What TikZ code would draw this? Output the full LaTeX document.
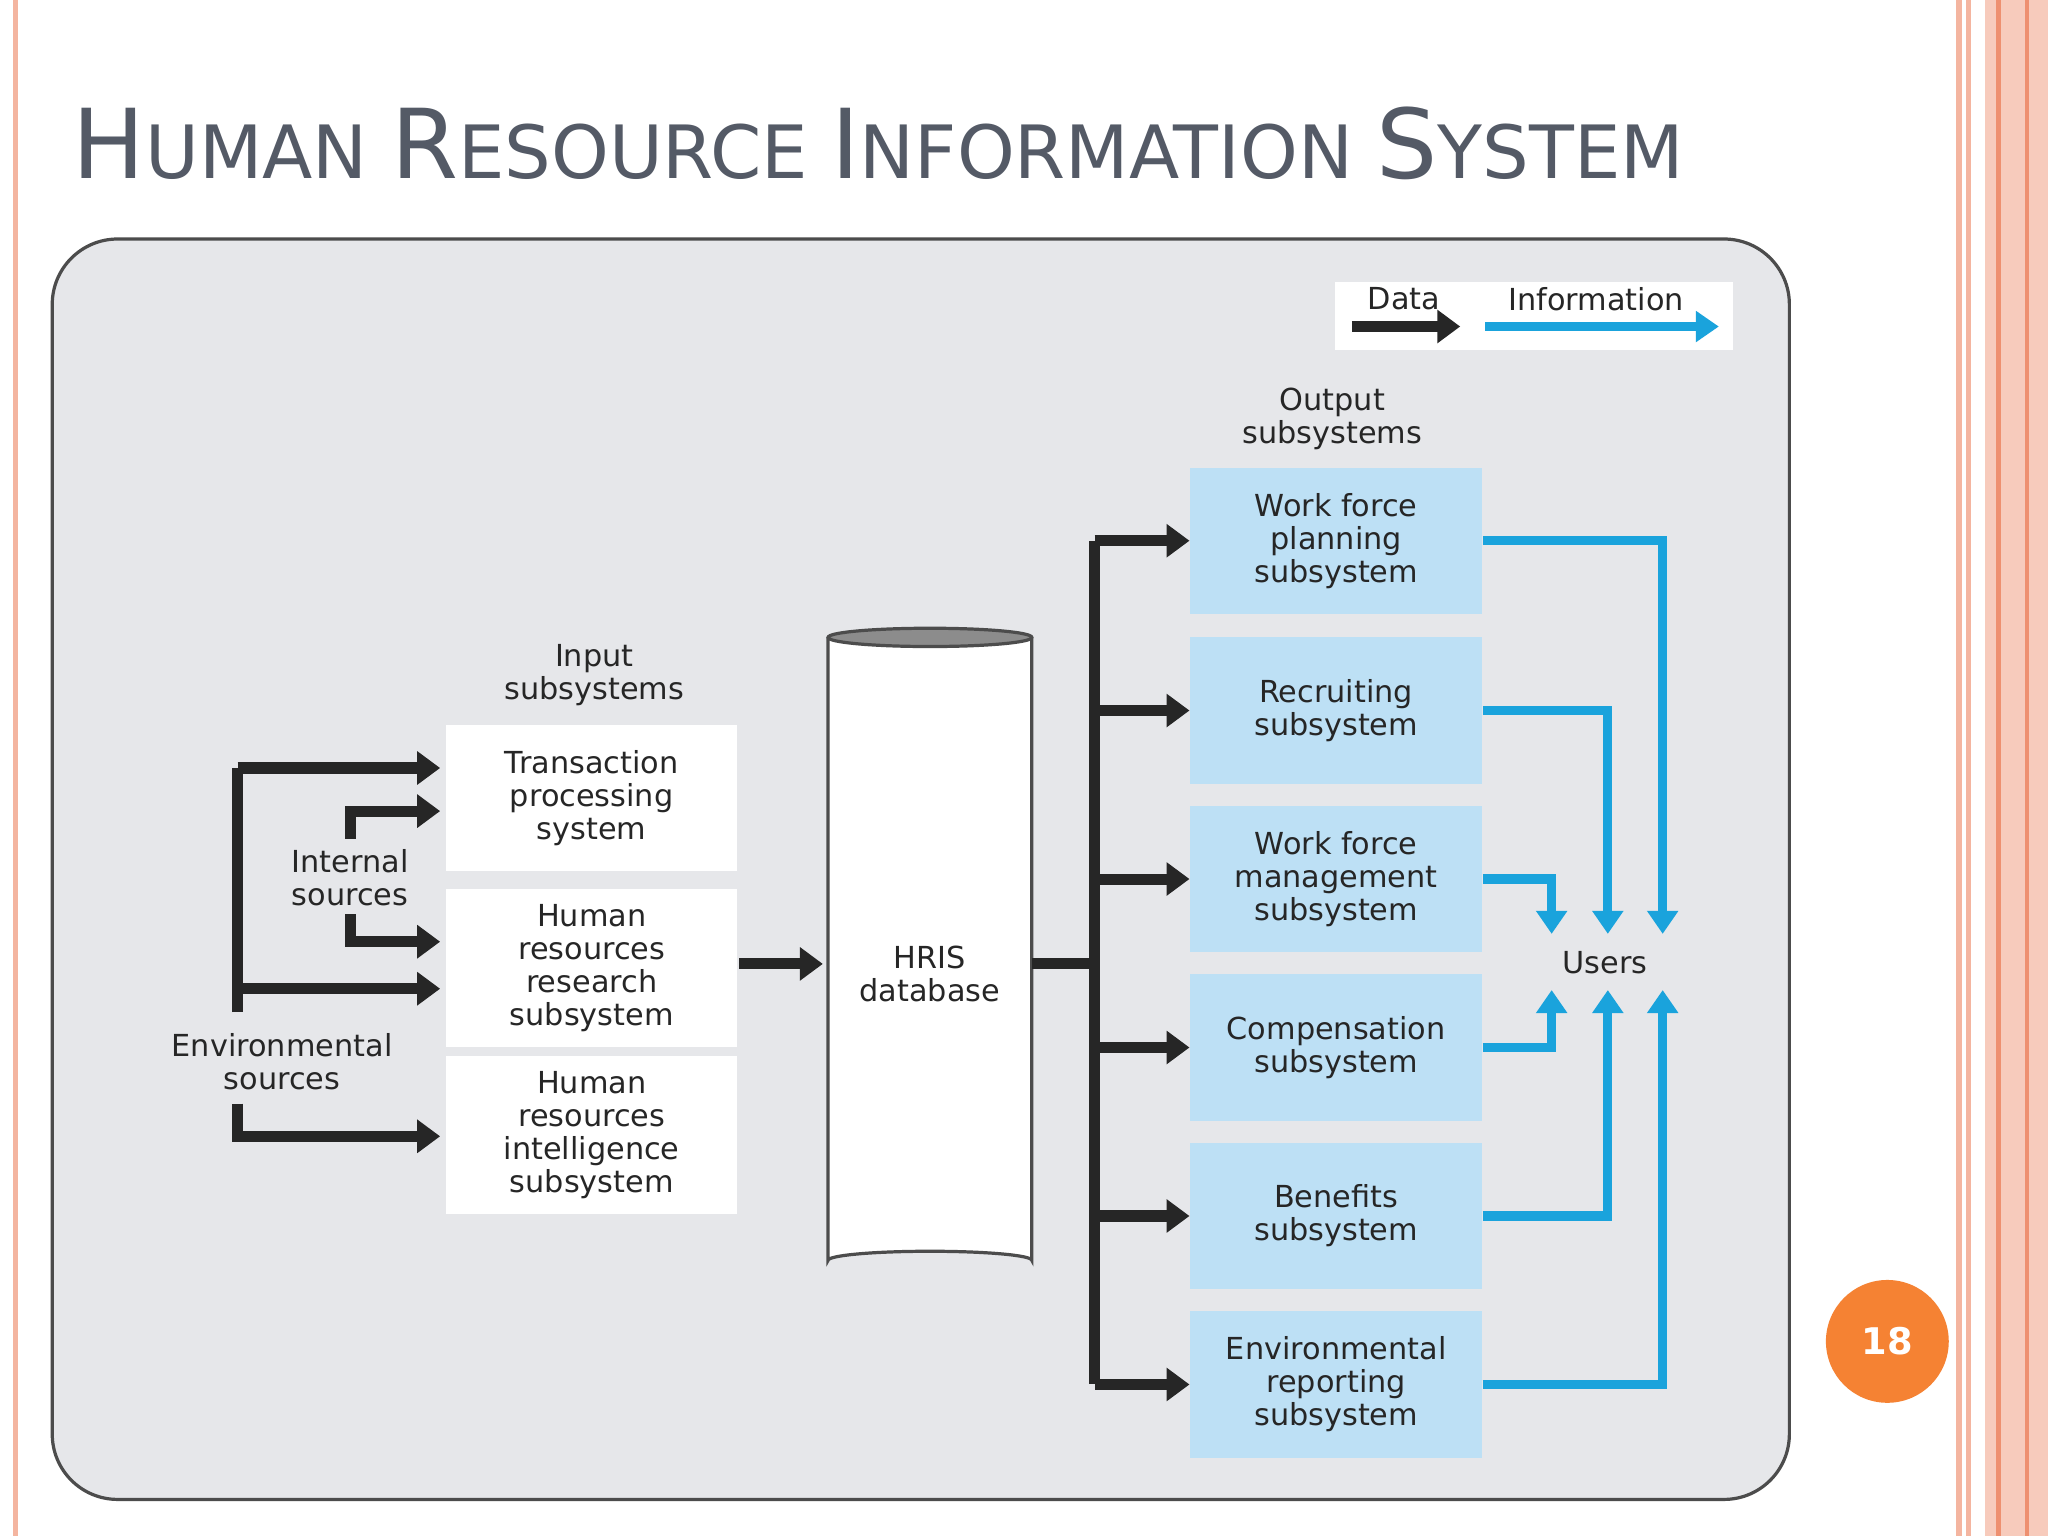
\documentclass[tikz,border=0pt]{standalone}
\usepackage{fontspec}
\setmainfont{DejaVu Sans}
\usetikzlibrary{arrows.meta,shapes.geometric}
\definecolor{panel}{HTML}{E6E7EA}
\definecolor{lblue}{HTML}{BDE0F5}
\definecolor{cyanA}{HTML}{1AA3DC}
\definecolor{titleg}{HTML}{545A66}
\definecolor{pinkb}{HTML}{F4B5A0}
\definecolor{orangeC}{HTML}{F58233}
\begin{document}
\begin{tikzpicture}[x=0.01cm,y=-0.01cm,
  txt/.style={font=\fontsize{6.6}{7.2}\selectfont,align=center,text=black!85},
  obox/.style={draw=none,fill=lblue,minimum width=2.23cm,minimum height=1.12cm,txt},
  ibox/.style={draw=none,fill=white,minimum width=2.23cm,minimum height=1.12cm,txt},
  dat/.style={line width=2.4pt,draw=black!85,-{Triangle[length=5pt,width=7pt]}},
  dl/.style={line width=2.4pt,draw=black!85},
  inf/.style={line width=2pt,draw=cyanA,-{Triangle[length=5pt,width=6.5pt]}}]
\useasboundingbox (0,0) rectangle (1568,1176);
\fill[white] (0,0) rectangle (1568,1176);
% borders
\draw[pinkb,line width=1.2pt] (12,0) -- (12,1176);
\draw[pinkb,line width=1.2pt] (1500,0) -- (1500,1176);
\draw[pinkb,line width=1.2pt] (1507,0) -- (1507,1176);
\fill[pinkb!70] (1520,0) rectangle (1568,1176);
\draw[pinkb!150,line width=1pt] (1530,0) -- (1530,1176);
\draw[pinkb!150,line width=1pt] (1552,0) -- (1552,1176);
% title
\node[anchor=west,text=titleg,inner sep=0] (title) at (55,110)
 {\fontsize{21}{24}\selectfont H\fontsize{16}{18}\selectfont UMAN \fontsize{21}{24}\selectfont R\fontsize{16}{18}\selectfont ESOURCE \fontsize{21}{24}\selectfont I\fontsize{16}{18}\selectfont NFORMATION \fontsize{21}{24}\selectfont S\fontsize{16}{18}\selectfont YSTEM};
% panel
\draw[fill=panel,draw=black!70,line width=0.7pt,rounded corners=0.5cm] (40,183) rectangle (1370,1148);
% legend
\fill[white] (1022,216) rectangle (1327,268);
\node[txt] (ldata) at (1075,229) {Data};
\node[txt] (linfo) at (1222,229) {Information};
\coordinate (d1) at (1035,250); \coordinate (d2) at (1118,250);
\coordinate (i1) at (1137,250); \coordinate (i2) at (1316,250);
\draw[dat] (d1) -- (d2);
\draw[inf] (i1) -- (i2);
% output
\node[txt] (outlbl) at (1020,321) {Output\\subsystems};
\node[obox] (o1) at (1023,414) {Work force\\planning\\subsystem};
\node[obox] (o2) at (1023,544) {Recruiting\\subsystem};
\node[obox] (o3) at (1023,673) {Work force\\management\\subsystem};
\node[obox] (o4) at (1023,802) {Compensation\\subsystem};
\node[obox] (o5) at (1023,931) {Benefits\\subsystem};
\node[obox] (o6) at (1023,1060) {Environmental\\reporting\\subsystem};
% cylinder
\draw[fill=white,draw=black!70,line width=0.7pt] (634,488) -- (634,965) arc[start angle=180,end angle=360,x radius=78,y radius=7] -- (790,488);
\draw[fill=black!45,draw=black!70,line width=0.7pt] (712,488) ellipse[x radius=78,y radius=7];
\node[txt] (db) at (712,746) {HRIS\\database};
% input
\node[txt] (inlbl) at (455,517) {Input\\subsystems};
\node[ibox] (n1) at (453,611) {Transaction\\processing\\system};
\node[ibox] (n2) at (453,741) {Human\\resources\\research\\subsystem};
\node[ibox] (n3) at (453,869) {Human\\resources\\intelligence\\subsystem};
\draw[dat] (566,738) -- (630,738);
% trunk
\coordinate (t0) at (790,738); \coordinate (tj) at (838,738);
\draw[dl] (t0) -- (tj);
\draw[dl] (838,414) -- (838,1060);
\foreach \i in {1,...,6} \draw[dat] (o\i.west -| 838,0) ++(0,0) -- (o\i.west);
% sources
\node[txt] (env) at (216,813) {Environmental\\sources};
\node[txt] (int) at (268,672) {Internal\\sources};
\draw[dl] (182,775) -- (182,588);
\draw[dat] (182,588) -- (337,588);
\draw[dat] (182,757) -- (337,757);
\draw[dat] (182,845) -- (182,870) -- (337,870);
\draw[dat] (268,642) -- (268,621) -- (337,621);
\draw[dat] (268,700) -- (268,721) -- (337,721);
% users
\node[txt] (users) at (1229,737) {Users};
\draw[inf] (o1.east) -- (1273,414) -- (1273,715);
\draw[inf] (o2.east) -- (1231,544) -- (1231,715);
\draw[inf] (o3.east) -- (1188,673) -- (1188,715);
\draw[inf] (o4.east) -- (1188,802) -- (1188,758);
\draw[inf] (o5.east) -- (1231,931) -- (1231,758);
\draw[inf] (o6.east) -- (1273,1060) -- (1273,758);
% page number
\node[circle,fill=orangeC,minimum size=0.94cm,text=white,font=\bfseries\fontsize{8}{9}\selectfont] (pg) at (1445,1027) {18};
\end{tikzpicture}
\end{document}
